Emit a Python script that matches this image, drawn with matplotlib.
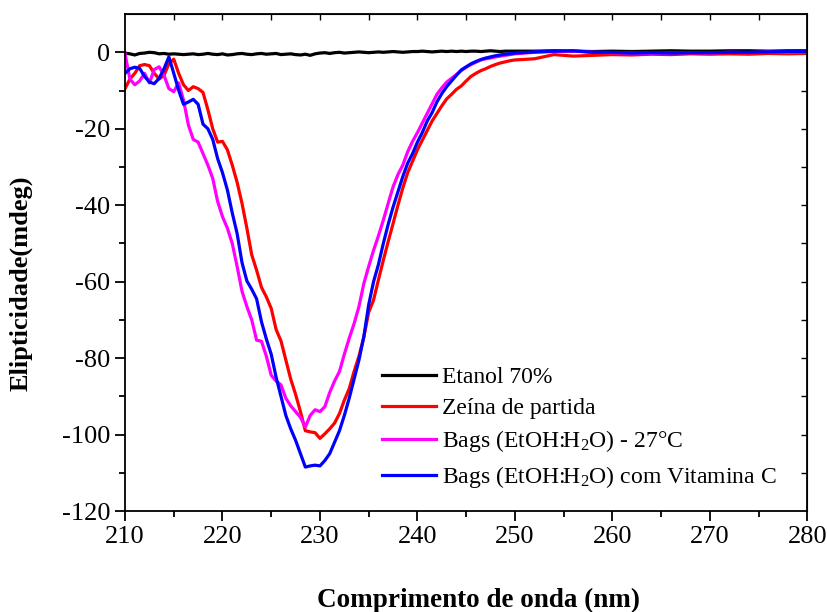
import matplotlib.pyplot as plt
import numpy as np

plt.rcParams['font.family'] = ['Liberation Serif', 'DejaVu Serif']
plt.rcParams['mathtext.default'] = 'regular'
plt.rcParams['axes.unicode_minus'] = False

# wavelength (nm): 0.5 nm steps over the band, 2 nm steps on the flat tail
wl = np.concatenate([np.arange(210, 250, 0.5), np.arange(250, 281, 2)])

etanol = [-0.2, -0.4, -0.7, -0.3, -0.2, 0.0, -0.1, -0.4, -0.3, -0.5,
          -0.4, -0.5, -0.6, -0.5, -0.4, -0.6, -0.5, -0.3, -0.5, -0.6,
          -0.4, -0.7, -0.6, -0.4, -0.3, -0.5, -0.6, -0.4, -0.3, -0.5,
          -0.4, -0.3, -0.6, -0.5, -0.4, -0.6, -0.7, -0.5, -0.8, -0.4,
          -0.2, -0.1, -0.3, -0.1, 0.0, -0.2, -0.1, 0.0, 0.1, 0.0,
          -0.1, 0.0, 0.1, 0.0, 0.1, 0.2, 0.1, 0.0, 0.1, 0.2,
          0.2, 0.3, 0.2, 0.1, 0.2, 0.3, 0.2, 0.3, 0.2, 0.3,
          0.2, 0.3, 0.3, 0.2, 0.3, 0.4, 0.3, 0.2, 0.3, 0.3,
          0.3, 0.3, 0.4, 0.3, 0.2, 0.3, 0.2, 0.3, 0.4, 0.3,
          0.3, 0.4, 0.4, 0.3, 0.4, 0.4]

zeina = [-9.5, -7.0, -5.5, -3.5, -3.2, -3.5, -5.5, -7.0, -6.0, -3.0,
         -1.8, -5.5, -8.5, -10.0, -9.0, -9.5, -10.5, -15.0, -20.0, -23.5,
         -23.3, -25.5, -29.5, -34.0, -39.5, -46.0, -53.0, -57.0, -61.5, -64.0,
         -67.0, -72.5, -75.5, -80.5, -85.5, -89.5, -94.0, -99.0, -99.3, -99.5,
         -101.0, -99.8, -98.5, -97.0, -94.5, -91.0, -88.0, -83.5, -79.5, -74.5,
         -68.0, -64.8, -59.5, -54.4, -49.5, -44.8, -40.0, -35.5, -31.5, -28.5,
         -25.5, -23.0, -20.5, -18.0, -16.0, -14.0, -12.2, -11.0, -9.7, -8.8,
         -7.5, -6.3, -5.5, -4.8, -4.3, -3.7, -3.2, -2.8, -2.5, -2.2,
         -2.0, -1.7, -0.6, -1.0, -0.8, -0.6, -0.7, -0.5, -0.6, -0.4,
         -0.5, -0.4, -0.5, -0.3, -0.4, -0.3]

bags_27 = [-0.3, -7.0, -8.5, -7.5, -5.5, -8.0, -4.5, -3.8, -6.0, -9.5,
           -10.3, -8.0, -12.5, -19.0, -22.8, -23.5, -26.5, -29.5, -33.0, -39.0,
           -43.0, -46.0, -50.0, -56.0, -62.5, -66.5, -70.0, -75.3, -75.6, -79.5,
           -84.5, -86.0, -87.0, -90.5, -92.5, -94.0, -95.5, -98.0, -95.0, -93.5,
           -94.0, -92.7, -89.0, -86.0, -83.5, -79.0, -74.8, -71.0, -66.5, -60.5,
           -56.0, -51.8, -48.0, -43.9, -39.5, -35.2, -32.0, -29.5, -26.0, -23.3,
           -21.0, -18.5, -16.0, -13.5, -11.0, -9.3, -7.8, -6.8, -5.8, -4.8,
           -3.9, -3.2, -2.6, -2.0, -1.7, -1.5, -1.2, -1.0, -0.8, -0.6,
           -0.4, 0.0, 0.2, 0.3, 0.0, -0.1, -0.2, -0.3, -0.2, -0.1,
           -0.2, 0.0, -0.1, 0.1, 0.0, 0.1]

bags_vitc = [-5.5, -4.3, -3.9, -4.2, -6.3, -7.8, -8.2, -6.8, -4.3, -1.2,
             -5.5, -9.9, -13.6, -13.0, -12.3, -13.6, -18.8, -20.0, -22.8, -27.8,
             -31.5, -36.0, -42.0, -47.4, -55.0, -59.8, -62.0, -64.5, -70.5, -75.0,
             -79.0, -85.0, -90.0, -95.0, -98.5, -101.5, -105.0, -108.5, -108.2, -108.0,
             -108.2, -106.8, -105.0, -102.0, -99.0, -95.0, -90.5, -85.5, -80.5, -74.4,
             -66.0, -60.0, -55.5, -50.0, -45.0, -40.5, -36.5, -32.5, -29.0, -26.5,
             -23.5, -21.0, -18.0, -15.8, -13.0, -10.8, -9.0, -7.5, -6.0, -4.6,
             -3.8, -3.0, -2.4, -1.9, -1.5, -1.2, -0.9, -0.7, -0.5, -0.4,
             -0.2, 0.1, 0.3, 0.4, 0.0, 0.0, -0.2, -0.1, -0.2, -0.1,
             -0.1, 0.0, 0.0, 0.1, 0.2, 0.2]

labels = ['Etanol 70%', 'Zeína de partida',
          'Bags (EtOH:H$_2$O) - 27°C', 'Bags (EtOH:H$_2$O) com Vitamina C']
colors = ['black', '#ff0000', '#ff00ff', '#0000ff']

fig = plt.figure(figsize=(8.28, 6.12), dpi=100)
ax = fig.add_axes([0.151, 0.165, 0.824, 0.812])

for y, lab, col in zip([etanol, zeina, bags_27, bags_vitc], labels, colors):
    ax.plot(wl, y, color=col, lw=2.3, label=lab)

ax.set_xlim(210, 280)
ax.set_ylim(-120, 10)
ax.set_xticks(np.arange(210, 281, 10))
ax.set_xticks(np.arange(215, 280, 10), minor=True)
ax.set_yticks(np.arange(-120, 1, 20))
ax.set_yticks(np.arange(-110, 10, 20), minor=True)
ax.tick_params(which='major', direction='out', length=7, width=1.3, labelsize=19)
ax.tick_params(which='minor', direction='out', length=4, width=1.3)
for s in ax.spines.values():
    s.set_linewidth(1.3)

top = ax.secondary_xaxis('top')
top.set_xticks(np.arange(215, 280, 5))
top.tick_params(direction='in', length=4, width=1.0, labeltop=False)
right = ax.secondary_yaxis('right')
right.set_yticks(np.arange(-110, 10, 10))
right.tick_params(direction='in', length=4, width=1.0, labelright=False)

ax.set_xlabel('Comprimento de onda (nm)', fontsize=19.5, fontweight='bold')
ax.set_ylabel('Elipticidade(mdeg)', fontsize=19, fontweight='bold')
ax.xaxis.set_label_coords(0.518, -0.155)
ax.yaxis.set_label_coords(-0.135, 0.459)

ax.legend(loc='lower left', bbox_to_anchor=(0.345, 0.0), frameon=False,
          fontsize=17, handlelength=2.3, handletextpad=0.25, labelspacing=0.4)

fig.savefig('out.png', dpi=100)
